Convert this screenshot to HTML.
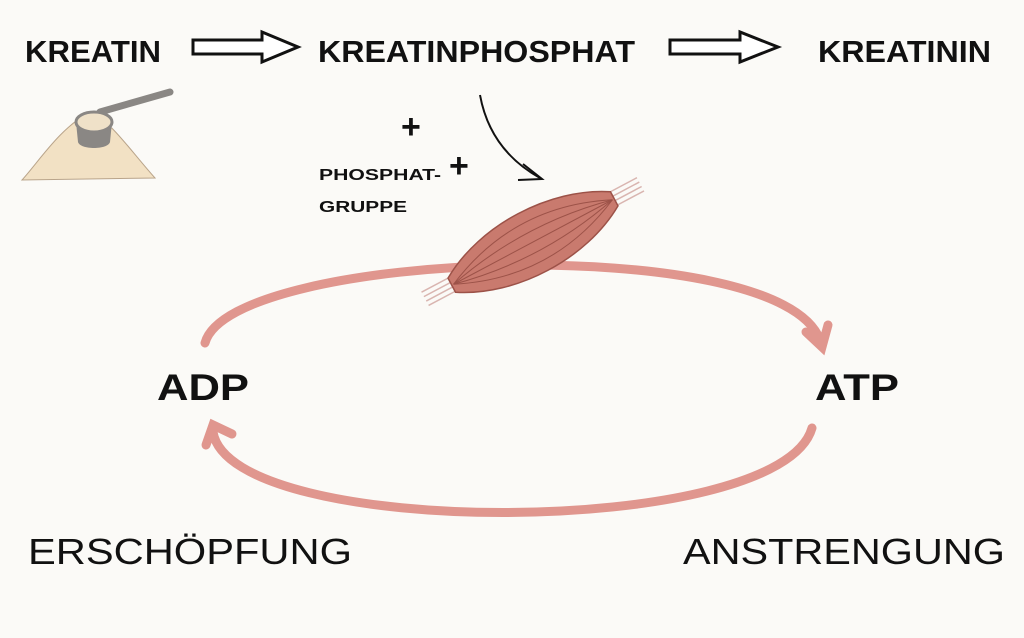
<!DOCTYPE html>
<html><head><meta charset="utf-8"><style>
html,body{margin:0;padding:0;background:#fbfaf7;}
svg{display:block}
</style></head><body>
<svg width="1024" height="638" viewBox="0 0 1024 638" xmlns="http://www.w3.org/2000/svg">
<rect width="1024" height="638" fill="#fbfaf7"/>
<g font-family="Liberation Sans, sans-serif" font-weight="bold" fill="#111">
<text x="25" y="62" font-size="31" textLength="136" lengthAdjust="spacingAndGlyphs">KREATIN</text>
<text x="318" y="62" font-size="31" textLength="317" lengthAdjust="spacingAndGlyphs">KREATINPHOSPHAT</text>
<text x="818" y="62" font-size="31" textLength="173" lengthAdjust="spacingAndGlyphs">KREATININ</text>
<text x="319" y="180" font-size="16" textLength="122" lengthAdjust="spacingAndGlyphs">PHOSPHAT-</text>
<text x="319" y="212" font-size="16" textLength="88" lengthAdjust="spacingAndGlyphs">GRUPPE</text>
<text x="401" y="138" font-size="34">+</text>
<text x="449" y="177" font-size="34">+</text>
<text x="157" y="400" font-size="37" textLength="92" lengthAdjust="spacingAndGlyphs">ADP</text>
<text x="815" y="400" font-size="37" textLength="84" lengthAdjust="spacingAndGlyphs">ATP</text>
</g>
<g font-family="Liberation Sans, sans-serif" fill="#111" font-size="36">
<text x="28" y="564" textLength="324" lengthAdjust="spacingAndGlyphs">ERSCHÖPFUNG</text>
<text x="683" y="564" textLength="322" lengthAdjust="spacingAndGlyphs">ANSTRENGUNG</text>
</g>
<path d="M193 40 H262 V32 L298 47 L262 62 V54 H193 Z" fill="#fff" stroke="#111" stroke-width="3"/>
<path d="M670 40 H740 V32 L778 47 L740 62 V54 H670 Z" fill="#fff" stroke="#111" stroke-width="3"/>
<path d="M480 95 Q490 150 540 178" fill="none" stroke="#111" stroke-width="2"/>
<path d="M523 164 L542 179 L518 180" fill="none" stroke="#111" stroke-width="2"/>
<g fill="none" stroke="#e0968e" stroke-width="9" stroke-linecap="round">
<path d="M205 343 C230 250 780 230 820 340"/>
<path d="M806 332 L822 347 L828 325"/>
<path d="M812 428 C780 540 230 540 213 432"/>
<path d="M206 445 L213 425 L232 434"/>
</g>
<g transform="translate(533,242) rotate(-28)">
<g stroke="#d9b5b0" stroke-width="1.5">
<path d="M-122 -8 H-88 M-122 -3 H-88 M-122 2 H-88 M-122 7 H-88 M88 -8 H122 M88 -3 H122 M88 2 H122 M88 7 H122"/>
</g>
<path d="M-92 -8 C-40 -40 40 -40 92 -8 L92 8 C40 40 -40 40 -92 8 Z" fill="#c97a6e" stroke="#9c5248" stroke-width="1.5"/>
<g stroke="#9c5248" stroke-width="1" fill="none">
<path d="M-90 0 C-30 -28 30 -28 90 0"/><path d="M-90 0 C-30 -14 30 -14 90 0"/>
<path d="M-90 0 H90"/>
<path d="M-90 0 C-30 14 30 14 90 0"/><path d="M-90 0 C-30 28 30 28 90 0"/>
</g>
</g>
<path d="M22 180 C40 160 60 128 90 112 C110 120 130 150 155 178 Z" fill="#f2e1c4" stroke="#b9a48a" stroke-width="1"/>
<path d="M100 112 L170 92" stroke="#8a8784" stroke-width="7" stroke-linecap="round"/>
<path d="M76 122 L78 142 C80 150 108 150 110 142 L112 122 Z" fill="#8a8784"/>
<ellipse cx="94" cy="122" rx="18" ry="10" fill="#efe1c8" stroke="#8a8784" stroke-width="3"/>
</svg>
</body></html>
